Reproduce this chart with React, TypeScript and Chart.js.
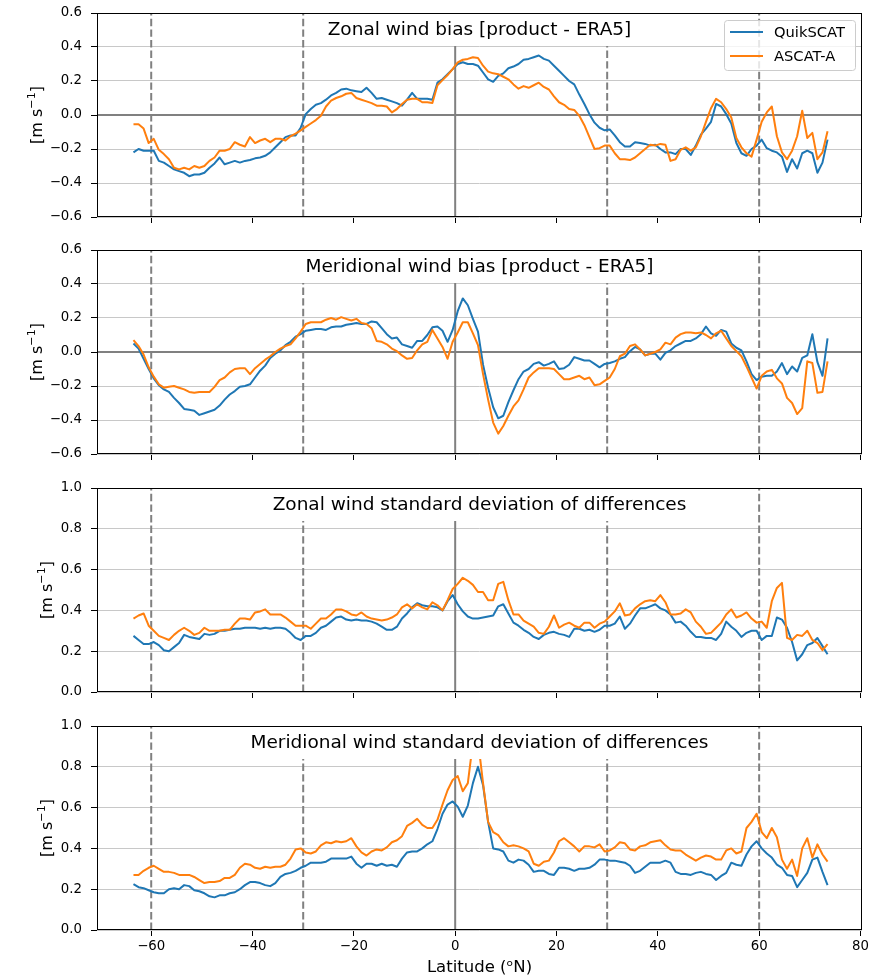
import React, { useEffect, useRef } from 'react';
import { Chart, registerables } from 'chart.js';

Chart.register(...registerables);
Chart.defaults.font.family = '"DejaVu Sans", sans-serif';

// Latitude bin centres (1 degree bins)
const LAT: number[] = Array.from({ length: 138 }, (_, i) => -63.5 + i);

const X_MIN = -70.7;
const X_MAX = 80.3;
const X_TICKS = [-60, -40, -20, 0, 20, 40, 60, 80];
const BIAS_TICKS = [-0.6, -0.4, -0.2, 0, 0.2, 0.4, 0.6];
const STD_TICKS = [0, 0.2, 0.4, 0.6, 0.8, 1.0];
const DASHED_LATS = [-60, -30, 30, 60];
const SOLID_LATS = [0];

const SERIES_NAMES = ['QuikSCAT', 'ASCAT-A'];
const COLORS = ['#1f77b4', '#ff7f0e'];

// Zonal wind bias
const U_BIAS_QS = [
  -0.22, -0.20, -0.21, -0.21, -0.21, -0.27, -0.28, -0.30, -0.32, -0.33,
  -0.34, -0.36, -0.35, -0.35, -0.34, -0.31, -0.285, -0.25, -0.29, -0.28,
  -0.27, -0.28, -0.27, -0.265, -0.255, -0.25, -0.24, -0.22, -0.19, -0.16,
  -0.13, -0.12, -0.12, -0.075, 0.005, 0.035, 0.06, 0.07, 0.09, 0.115,
  0.13, 0.15, 0.155, 0.145, 0.14, 0.135, 0.16, 0.13, 0.095, 0.10,
  0.09, 0.08, 0.07, 0.055, 0.09, 0.13, 0.095, 0.095, 0.095, 0.09,
  0.19, 0.21, 0.24, 0.27, 0.30, 0.31, 0.30, 0.30, 0.29, 0.25,
  0.21, 0.195, 0.23, 0.245, 0.275, 0.285, 0.30, 0.325, 0.33, 0.34,
  0.35, 0.33, 0.32, 0.29, 0.26, 0.23, 0.20, 0.18, 0.12, 0.065,
  0.005, -0.045, -0.075, -0.09, -0.085, -0.12, -0.16, -0.185, -0.185, -0.16,
  -0.165, -0.17, -0.18, -0.175, -0.20, -0.22, -0.22, -0.23, -0.20, -0.20,
  -0.235, -0.18, -0.115, -0.08, -0.04, 0.065, 0.05, 0.005, -0.05, -0.165,
  -0.225, -0.24, -0.20, -0.18, -0.145, -0.195, -0.21, -0.22, -0.245, -0.335,
  -0.26, -0.315, -0.225, -0.21, -0.225, -0.34, -0.28, -0.145,
];
const U_BIAS_AS = [
  -0.055, -0.055, -0.08, -0.165, -0.14, -0.205, -0.23, -0.26, -0.31, -0.32,
  -0.31, -0.32, -0.30, -0.31, -0.30, -0.27, -0.25, -0.21, -0.21, -0.20,
  -0.16, -0.175, -0.185, -0.13, -0.165, -0.15, -0.14, -0.16, -0.14, -0.14,
  -0.15, -0.125, -0.11, -0.09, -0.07, -0.05, -0.03, -0.005, 0.05, 0.085,
  0.10, 0.11, 0.125, 0.13, 0.10, 0.09, 0.08, 0.07, 0.055, 0.055,
  0.05, 0.015, 0.035, 0.065, 0.09, 0.095, 0.095, 0.075, 0.075, 0.07,
  0.175, 0.205, 0.235, 0.27, 0.31, 0.325, 0.33, 0.34, 0.335, 0.29,
  0.255, 0.245, 0.24, 0.225, 0.21, 0.18, 0.155, 0.17, 0.16, 0.175,
  0.19, 0.165, 0.15, 0.11, 0.075, 0.06, 0.035, 0.03, -0.005, -0.06,
  -0.13, -0.20, -0.195, -0.18, -0.18, -0.225, -0.26, -0.26, -0.265, -0.25,
  -0.225, -0.20, -0.175, -0.18, -0.17, -0.175, -0.27, -0.26, -0.205, -0.19,
  -0.21, -0.19, -0.125, -0.04, 0.04, 0.095, 0.075, 0.035, -0.015, -0.135,
  -0.19, -0.225, -0.245, -0.145, -0.04, 0.015, 0.05, -0.125, -0.22, -0.26,
  -0.21, -0.125, 0.025, -0.135, -0.105, -0.26, -0.22, -0.095,
];

// Meridional wind bias
const V_BIAS_QS = [
  0.05, 0.02, -0.04, -0.10, -0.155, -0.195, -0.22, -0.235, -0.27, -0.30,
  -0.335, -0.34, -0.345, -0.37, -0.36, -0.35, -0.34, -0.315, -0.28, -0.25,
  -0.23, -0.205, -0.20, -0.19, -0.15, -0.11, -0.08, -0.035, -0.01, 0.01,
  0.04, 0.06, 0.09, 0.105, 0.125, 0.13, 0.135, 0.135, 0.13, 0.145,
  0.15, 0.15, 0.16, 0.165, 0.17, 0.165, 0.165, 0.18, 0.175, 0.14,
  0.105, 0.08, 0.085, 0.045, 0.035, 0.025, 0.065, 0.065, 0.10, 0.145,
  0.15, 0.125, 0.06, 0.13, 0.24, 0.315, 0.275, 0.195, 0.12, -0.075,
  -0.21, -0.325, -0.39, -0.375, -0.295, -0.225, -0.16, -0.115, -0.10, -0.07,
  -0.06, -0.08, -0.07, -0.055, -0.10, -0.095, -0.075, -0.03, -0.04, -0.05,
  -0.05, -0.07, -0.09, -0.07, -0.065, -0.055, -0.04, -0.03, 0.005, 0.03,
  0.015, -0.02, -0.01, -0.01, -0.045, -0.005, 0.01, 0.035, 0.05, 0.065,
  0.065, 0.08, 0.105, 0.15, 0.11, 0.095, 0.13, 0.12, 0.05, 0.025,
  0.01, -0.055, -0.13, -0.165, -0.145, -0.14, -0.14, -0.115, -0.065, -0.13,
  -0.085, -0.115, -0.035, -0.02, 0.105, -0.06, -0.14, 0.08,
];
const V_BIAS_AS = [
  0.07, 0.035, -0.015, -0.09, -0.145, -0.19, -0.21, -0.205, -0.20, -0.21,
  -0.22, -0.235, -0.24, -0.235, -0.235, -0.235, -0.205, -0.165, -0.15, -0.12,
  -0.10, -0.095, -0.095, -0.13, -0.095, -0.07, -0.045, -0.025, 0.0, 0.02,
  0.035, 0.045, 0.08, 0.12, 0.165, 0.175, 0.175, 0.175, 0.19, 0.20,
  0.19, 0.205, 0.195, 0.185, 0.195, 0.17, 0.165, 0.14, 0.065, 0.06,
  0.045, 0.02, 0.005, -0.02, -0.04, -0.035, 0.01, 0.045, 0.06, 0.13,
  0.08, 0.03, -0.04, 0.06, 0.115, 0.175, 0.175, 0.11, 0.04, -0.13,
  -0.28, -0.415, -0.48, -0.435, -0.375, -0.32, -0.285, -0.22, -0.15, -0.12,
  -0.095, -0.095, -0.095, -0.10, -0.13, -0.16, -0.16, -0.15, -0.14, -0.16,
  -0.15, -0.195, -0.19, -0.17, -0.15, -0.10, -0.025, -0.01, 0.035, 0.045,
  0.015, -0.02, -0.01, 0.0, 0.015, 0.055, 0.045, 0.085, 0.105, 0.115,
  0.115, 0.11, 0.115, 0.10, 0.08, 0.11, 0.125, 0.08, 0.035, 0.005,
  -0.025, -0.085, -0.15, -0.215, -0.14, -0.115, -0.105, -0.155, -0.185, -0.27,
  -0.30, -0.365, -0.33, -0.055, -0.065, -0.24, -0.235, -0.055,
];

// Zonal wind standard deviation of differences
const U_STD_QS = [
  0.275, 0.255, 0.235, 0.235, 0.245, 0.23, 0.205, 0.20, 0.22, 0.24,
  0.28, 0.27, 0.265, 0.26, 0.285, 0.28, 0.285, 0.30, 0.30, 0.305,
  0.31, 0.31, 0.315, 0.315, 0.315, 0.31, 0.315, 0.31, 0.315, 0.315,
  0.31, 0.29, 0.265, 0.255, 0.275, 0.275, 0.29, 0.315, 0.325, 0.345,
  0.365, 0.37, 0.355, 0.35, 0.355, 0.35, 0.35, 0.345, 0.335, 0.32,
  0.305, 0.305, 0.32, 0.36, 0.385, 0.415, 0.435, 0.425, 0.42, 0.42,
  0.415, 0.40, 0.445, 0.475, 0.43, 0.395, 0.37, 0.36, 0.36, 0.365,
  0.37, 0.375, 0.42, 0.43, 0.385, 0.34, 0.325, 0.305, 0.29, 0.27,
  0.26, 0.28, 0.29, 0.295, 0.285, 0.28, 0.27, 0.31, 0.31, 0.30,
  0.305, 0.295, 0.305, 0.325, 0.325, 0.335, 0.37, 0.31, 0.335, 0.375,
  0.41, 0.41, 0.42, 0.43, 0.41, 0.40, 0.38, 0.34, 0.345, 0.325,
  0.295, 0.27, 0.27, 0.265, 0.265, 0.255, 0.285, 0.345, 0.32, 0.30,
  0.27, 0.29, 0.30, 0.30, 0.255, 0.275, 0.275, 0.365, 0.355, 0.315,
  0.245, 0.155, 0.185, 0.23, 0.24, 0.265, 0.225, 0.185,
];
const U_STD_AS = [
  0.36, 0.375, 0.385, 0.325, 0.30, 0.275, 0.265, 0.255, 0.28, 0.30,
  0.315, 0.30, 0.28, 0.29, 0.315, 0.30, 0.30, 0.30, 0.305, 0.305,
  0.335, 0.36, 0.36, 0.355, 0.39, 0.395, 0.405, 0.38, 0.38, 0.38,
  0.365, 0.345, 0.325, 0.325, 0.325, 0.31, 0.335, 0.36, 0.36, 0.38,
  0.405, 0.405, 0.395, 0.38, 0.375, 0.39, 0.37, 0.36, 0.355, 0.35,
  0.355, 0.365, 0.38, 0.415, 0.43, 0.41, 0.43, 0.415, 0.405, 0.44,
  0.425, 0.40, 0.45, 0.505, 0.53, 0.56, 0.545, 0.525, 0.49, 0.49,
  0.45, 0.45, 0.53, 0.54, 0.45, 0.38, 0.38, 0.35, 0.335, 0.32,
  0.29, 0.285, 0.32, 0.375, 0.315, 0.33, 0.34, 0.325, 0.315, 0.34,
  0.34, 0.315, 0.335, 0.345, 0.37, 0.395, 0.435, 0.375, 0.38, 0.41,
  0.43, 0.445, 0.45, 0.445, 0.475, 0.44, 0.38, 0.38, 0.385, 0.405,
  0.39, 0.345, 0.32, 0.285, 0.29, 0.315, 0.34, 0.38, 0.405, 0.365,
  0.375, 0.39, 0.36, 0.34, 0.345, 0.315, 0.445, 0.51, 0.535, 0.265,
  0.255, 0.28, 0.275, 0.30, 0.255, 0.24, 0.205, 0.235,
];

// Meridional wind standard deviation of differences
const V_STD_QS = [
  0.225, 0.21, 0.205, 0.195, 0.185, 0.18, 0.18, 0.20, 0.205, 0.20,
  0.22, 0.215, 0.195, 0.19, 0.18, 0.165, 0.16, 0.17, 0.17, 0.18,
  0.185, 0.20, 0.22, 0.235, 0.235, 0.23, 0.22, 0.215, 0.23, 0.26,
  0.275, 0.28, 0.29, 0.305, 0.315, 0.33, 0.33, 0.33, 0.335, 0.35,
  0.35, 0.35, 0.35, 0.36, 0.325, 0.305, 0.325, 0.325, 0.315, 0.325,
  0.315, 0.32, 0.31, 0.35, 0.38, 0.385, 0.385, 0.40, 0.42, 0.435,
  0.495, 0.57, 0.615, 0.63, 0.605, 0.555, 0.61, 0.72, 0.80, 0.71,
  0.53, 0.40, 0.395, 0.385, 0.34, 0.33, 0.345, 0.34, 0.32, 0.285,
  0.29, 0.29, 0.275, 0.27, 0.305, 0.305, 0.30, 0.29, 0.30, 0.30,
  0.305, 0.32, 0.345, 0.345, 0.34, 0.34, 0.335, 0.33, 0.315, 0.28,
  0.29, 0.31, 0.33, 0.33, 0.33, 0.34, 0.33, 0.285, 0.275, 0.275,
  0.27, 0.28, 0.285, 0.275, 0.27, 0.245, 0.265, 0.28, 0.33, 0.32,
  0.315, 0.37, 0.41, 0.435, 0.40, 0.375, 0.355, 0.32, 0.305, 0.27,
  0.265, 0.21, 0.245, 0.28, 0.345, 0.355, 0.285, 0.22,
];
const V_STD_AS = [
  0.27, 0.27, 0.29, 0.305, 0.315, 0.30, 0.285, 0.285, 0.28, 0.27,
  0.27, 0.27, 0.26, 0.245, 0.23, 0.235, 0.235, 0.24, 0.255, 0.255,
  0.27, 0.305, 0.325, 0.32, 0.305, 0.30, 0.31, 0.305, 0.31, 0.31,
  0.32, 0.35, 0.395, 0.40, 0.38, 0.375, 0.385, 0.415, 0.43, 0.425,
  0.435, 0.43, 0.435, 0.45, 0.41, 0.38, 0.365, 0.385, 0.395, 0.39,
  0.405, 0.43, 0.44, 0.46, 0.51, 0.525, 0.545, 0.515, 0.50, 0.50,
  0.54, 0.615, 0.685, 0.735, 0.755, 0.68, 0.72, 0.92, 0.93, 0.72,
  0.53, 0.48, 0.465, 0.43, 0.41, 0.415, 0.41, 0.40, 0.385, 0.325,
  0.315, 0.335, 0.34, 0.38, 0.435, 0.45, 0.43, 0.41, 0.385, 0.41,
  0.41, 0.405, 0.42, 0.385, 0.39, 0.405, 0.43, 0.425, 0.395, 0.39,
  0.41, 0.415, 0.43, 0.435, 0.44, 0.415, 0.395, 0.39, 0.39, 0.37,
  0.355, 0.34, 0.355, 0.365, 0.36, 0.345, 0.345, 0.39, 0.40, 0.375,
  0.385, 0.50, 0.53, 0.57, 0.48, 0.45, 0.50, 0.455, 0.345, 0.30,
  0.345, 0.265, 0.40, 0.45, 0.355, 0.42, 0.37, 0.335,
];

const TITLES = [
  'Zonal wind bias [product - ERA5]',
  'Meridional wind bias [product - ERA5]',
  'Zonal wind standard deviation of differences',
  'Meridional wind standard deviation of differences',
];
// y label: "[m s" + superscript "−1" + "]"
const Y_LABEL_MAIN = '[m s';
const Y_LABEL_SUP = '\u22121';
const Y_LABEL_END = ']';
const X_LABEL = 'Latitude (\u1D52N)';

type PanelDef = {
  title: string;
  qs: number[];
  as: number[];
  yMin: number;
  yMax: number;
  yTicks: number[];
  zeroLine: boolean;
  legend: boolean;
  top: number;
  yLabelX: number;
  last: boolean;
};

const PANELS: PanelDef[] = [
  { title: TITLES[0], qs: U_BIAS_QS, as: U_BIAS_AS, yMin: -0.6, yMax: 0.6, yTicks: BIAS_TICKS, zeroLine: true, legend: true, top: 13, yLabelX: 36, last: false },
  { title: TITLES[1], qs: V_BIAS_QS, as: V_BIAS_AS, yMin: -0.6, yMax: 0.6, yTicks: BIAS_TICKS, zeroLine: true, legend: false, top: 250, yLabelX: 36, last: false },
  { title: TITLES[2], qs: U_STD_QS, as: U_STD_AS, yMin: 0, yMax: 1.0, yTicks: STD_TICKS, zeroLine: false, legend: false, top: 488, yLabelX: 46, last: false },
  { title: TITLES[3], qs: V_STD_QS, as: V_STD_AS, yMin: 0, yMax: 1.0, yTicks: STD_TICKS, zeroLine: false, legend: false, top: 726, yLabelX: 46, last: true },
];

const PLOT_H = 204;
const PAD_TOP = 20;
const CANVAS_W = 879;

const fmtY = (v: number) => (v < -1e-9 ? '\u2212' : '') + Math.abs(v).toFixed(1);
const fmtX = (v: number) => (v < 0 ? '\u2212' : '') + Math.abs(v).toString();

function makeDecor(p: PanelDef) {
  return {
    id: 'decor',
    afterDatasetsDraw(chart: any) {
      const { ctx, chartArea } = chart;
      const { left, right, top } = chartArea;
      ctx.save();
      // title with white box
      ctx.font = '18.5px "DejaVu Sans"';
      const w = ctx.measureText(p.title).width;
      const cx = (left + right) / 2;
      const base = top + 22;
      ctx.fillStyle = '#ffffff';
      ctx.fillRect(cx - w / 2 - 6, top, w + 12, base + 11 - top);
      ctx.fillStyle = '#000000';
      ctx.textAlign = 'center';
      ctx.textBaseline = 'alphabetic';
      ctx.fillText(p.title, cx, base);

      if (p.legend) {
        const lx = right - 138;
        const ly = top + 7;
        const lw = 131;
        const lh = 50;
        ctx.beginPath();
        if ((ctx as any).roundRect) (ctx as any).roundRect(lx + 0.5, ly + 0.5, lw, lh, 3);
        else ctx.rect(lx + 0.5, ly + 0.5, lw, lh);
        ctx.fillStyle = 'rgba(255,255,255,0.8)';
        ctx.fill();
        ctx.strokeStyle = '#cccccc';
        ctx.lineWidth = 1;
        ctx.stroke();
        ctx.font = '14.7px "DejaVu Sans"';
        ctx.textAlign = 'left';
        ctx.textBaseline = 'middle';
        SERIES_NAMES.forEach((name, i) => {
          const y = top + 19 + i * 24;
          ctx.beginPath();
          ctx.moveTo(right - 132, y);
          ctx.lineTo(right - 99, y);
          ctx.strokeStyle = COLORS[i];
          ctx.lineWidth = 2;
          ctx.stroke();
          ctx.fillStyle = '#000000';
          ctx.fillText(name, right - 88, y + 1);
        });
      }
      ctx.restore();
    },
    afterDraw(chart: any) {
      const { ctx, chartArea } = chart;
      const { left, right, top, bottom } = chartArea;
      ctx.save();
      // frame
      ctx.strokeStyle = '#000000';
      ctx.lineWidth = 1;
      ctx.strokeRect(left + 0.5, top + 0.5, right - left - 1, bottom - top - 1);
      // y label with superscript, rotated
      const cy = (top + bottom) / 2;
      ctx.translate(p.yLabelX, cy);
      ctx.rotate(-Math.PI / 2);
      ctx.fillStyle = '#000000';
      ctx.textAlign = 'left';
      ctx.textBaseline = 'alphabetic';
      const big = '16px "DejaVu Sans"';
      const small = '11.2px "DejaVu Sans"';
      ctx.font = big;
      const w1 = ctx.measureText(Y_LABEL_MAIN).width;
      const w3 = ctx.measureText(Y_LABEL_END).width;
      ctx.font = small;
      const w2 = ctx.measureText(Y_LABEL_SUP).width;
      let x = -(w1 + w2 + w3) / 2;
      const base = 5.8;
      ctx.font = big;
      ctx.fillText(Y_LABEL_MAIN, x, base);
      x += w1;
      ctx.font = small;
      ctx.fillText(Y_LABEL_SUP, x, base - 6.5);
      x += w2;
      ctx.font = big;
      ctx.fillText(Y_LABEL_END, x, base);
      ctx.restore();
    },
  };
}

function Panel({ p }: { p: PanelDef }) {
  const ref = useRef<HTMLCanvasElement | null>(null);
  const height = p.last ? 979 - (p.top - PAD_TOP) : PAD_TOP + PLOT_H + 20;
  const xHeight = height - PAD_TOP - PLOT_H;

  useEffect(() => {
    if (!ref.current) return;
    const refSets: any[] = [];
    DASHED_LATS.forEach((lat) => {
      refSets.push({
        data: [{ x: lat, y: p.yMin }, { x: lat, y: p.yMax }],
        borderColor: '#808080', borderWidth: 2, borderDash: [7.4, 3.2],
        pointRadius: 0, order: 5, label: 'ref',
      });
    });
    SOLID_LATS.forEach((lat) => {
      refSets.push({
        data: [{ x: lat, y: p.yMin }, { x: lat, y: p.yMax }],
        borderColor: '#808080', borderWidth: 2,
        pointRadius: 0, order: 5, label: 'ref',
      });
    });
    if (p.zeroLine) {
      refSets.push({
        data: [{ x: X_MIN, y: 0 }, { x: X_MAX, y: 0 }],
        borderColor: '#808080', borderWidth: 2,
        pointRadius: 0, order: 5, label: 'ref',
      });
    }
    const chart = new Chart(ref.current, {
      type: 'line',
      data: {
        datasets: [
          {
            label: SERIES_NAMES[1],
            data: LAT.map((x, i) => ({ x, y: p.as[i] })),
            borderColor: COLORS[1], borderWidth: 2, pointRadius: 0, tension: 0,
            borderJoinStyle: 'round', order: 0,
          },
          {
            label: SERIES_NAMES[0],
            data: LAT.map((x, i) => ({ x, y: p.qs[i] })),
            borderColor: COLORS[0], borderWidth: 2, pointRadius: 0, tension: 0,
            borderJoinStyle: 'round', order: 1,
          },
          ...refSets,
        ],
      },
      options: {
        responsive: false,
        animation: false,
        devicePixelRatio: 1,
        events: [],
        layout: { padding: { top: PAD_TOP, right: 17, bottom: 0, left: 0 } },
        plugins: { legend: { display: false }, tooltip: { enabled: false }, title: { display: false } },
        scales: {
          x: {
            type: 'linear',
            min: X_MIN,
            max: X_MAX,
            afterBuildTicks: (s: any) => { s.ticks = X_TICKS.map((v) => ({ value: v })); },
            afterFit: (s: any) => { s.height = xHeight; },
            ticks: {
              display: p.last, autoSkip: false, maxRotation: 0, padding: 3,
              color: '#000000', font: { size: 13.3 },
              callback: (v: any) => fmtX(Number(v)),
            },
            grid: { display: true, drawOnChartArea: false, drawTicks: true, tickLength: 6, tickColor: '#000000', tickWidth: 1 },
            border: { display: false },
            title: {
              display: p.last, text: X_LABEL, color: '#000000',
              font: { size: 16.5 }, padding: { top: 0, bottom: 1 },
            },
          },
          y: {
            type: 'linear',
            min: p.yMin,
            max: p.yMax,
            afterBuildTicks: (s: any) => { s.ticks = p.yTicks.map((v) => ({ value: v })); },
            afterFit: (s: any) => { s.width = 97; },
            ticks: {
              padding: 9, color: '#000000', font: { size: 13.3 },
              callback: (v: any) => fmtY(Number(v)),
            },
            grid: { color: '#c8c8c8', lineWidth: 1, drawTicks: true, tickLength: 6, tickColor: '#000000', tickWidth: 1 },
            border: { display: false },
            title: { display: false },
          },
        },
      } as any,
      plugins: [makeDecor(p)],
    });
    return () => chart.destroy();
  }, []);

  return (
    <canvas
      ref={ref}
      width={CANVAS_W}
      height={height}
      style={{ position: 'absolute', left: 0, top: p.top - PAD_TOP, width: CANVAS_W, height }}
    />
  );
}

export default function App() {
  return (
    <div style={{ position: 'absolute', left: 0, top: 0, width: 879, height: 979, background: '#ffffff', overflow: 'hidden' }}>
      {PANELS.map((p, i) => (
        <Panel key={i} p={p} />
      ))}
    </div>
  );
}
